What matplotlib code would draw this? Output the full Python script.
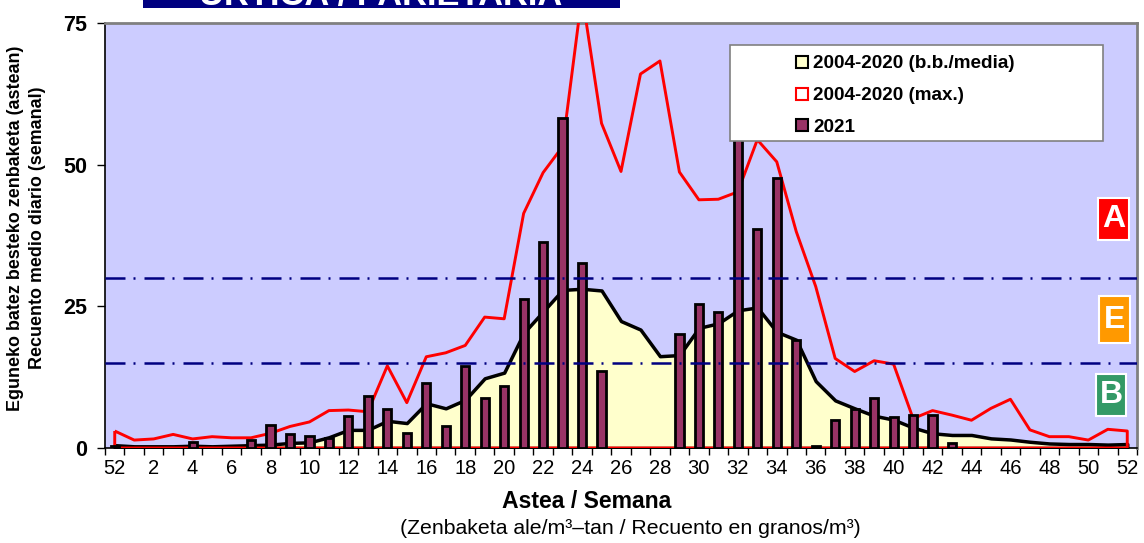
import numpy as np
import matplotlib
matplotlib.use("Agg")
import matplotlib.pyplot as plt
from matplotlib.patches import Patch, Rectangle

plt.rcParams['font.family'] = ['Liberation Sans', 'DejaVu Sans']

# ---- data ----
week_labels = [52] + list(range(1, 53))  # 53 categories
bars_2021 = [0.4, 0, 0, 0, 1.0, 0, 0, 1.4, 4.0, 2.5, 2.1, 1.7, 5.6, 9.2, 6.8, 2.7,
             11.5, 3.9, 14.5, 8.9, 10.9, 26.3, 36.3, 58.3, 32.6, 13.6, 0, 0, 0,
             20.1, 25.4, 24.0, 60.0, 38.7, 47.6, 19.0, 0.3, 4.9, 6.9, 8.8, 5.5,
             5.8, 5.9, 0.9, 0, 0, 0, 0, 0, 0, 0, 0, 0]
mean_0420 = [0.5, 0.3, 0.3, 0.3, 0.4, 0.3, 0.4, 0.5, 0.6, 0.9, 1.0, 1.9, 3.2, 3.2,
             4.8, 4.4, 7.9, 7.0, 8.5, 12.3, 13.3, 20.3, 24.1, 27.9, 28.1, 27.8,
             22.4, 20.9, 16.2, 16.4, 21.2, 22.0, 24.3, 24.8, 20.5, 19.1, 11.8,
             8.4, 7.0, 5.7, 5.0, 3.6, 2.6, 2.3, 2.3, 1.7, 1.5, 1.1, 0.8, 0.7,
             0.7, 0.6, 0.7]
max_0420 = [3.0, 1.4, 1.6, 2.4, 1.6, 2.0, 1.8, 1.8, 2.6, 3.8, 4.6, 6.6, 6.7, 6.4,
            14.5, 8.0, 16.1, 16.8, 18.1, 23.1, 22.8, 41.4, 48.6, 53.2, 80.0,
            57.3, 48.8, 66.0, 68.3, 48.7, 43.8, 43.9, 45.2, 54.4, 50.5, 38.2,
            28.5, 15.8, 13.5, 15.4, 14.8, 5.2, 6.6, 5.8, 4.9, 7.0, 8.6, 3.2,
            2.0, 2.0, 1.4, 3.3, 3.0]
thresholds = [15, 30]
levels = ["A", "E", "B"]
level_colors = ["#FF0000", "#FF9900", "#339966"]
series_names = ["2004-2020 (b.b./media)", "2004-2020 (max.)", "2021"]
title = "URTICA / PARIETARIA"

W, H = 1144, 543
fig = plt.figure(figsize=(W / 100, H / 100), dpi=100)
ax = fig.add_axes([105 / W, (H - 448) / H, (1137 - 105) / W, (448 - 23) / H])
ax.set_facecolor("#CCCCFF")

x = np.arange(len(week_labels))

ax.fill_between(x, 0, mean_0420, facecolor="#FFFFCC", edgecolor="black",
                linewidth=2.5, zorder=2)
ax.fill_between(x, 0, max_0420, facecolor="none", edgecolor="red",
                linewidth=2.1, zorder=3)
b = np.array(bars_2021)
mask = b > 0
ax.bar(x[mask], b[mask], width=0.42, color="#993366", edgecolor="black",
       linewidth=2.0, zorder=4)
for t in thresholds:
    ax.axhline(t, color="#000080", linewidth=1.8,
               linestyle=(0, (8, 3.2, 0.8, 3.6)), zorder=5)

ax.set_xlim(-0.5, len(week_labels) - 0.5)
ax.set_ylim(0, 75)
ax.set_yticks([0, 25, 50, 75])
ax.set_yticklabels(["0", "25", "50", "75"], fontsize=15.5, fontweight="bold")
ax.tick_params(axis="y", direction="out", length=6, width=1, pad=7)

ax.set_xticks(x[::2])
ax.set_xticklabels([str(week_labels[i]) for i in x[::2]], fontsize=14.5)
ax.set_xticks(np.arange(-0.5, len(week_labels)), minor=True)
ax.tick_params(axis="x", which="major", length=0, pad=8)
ax.tick_params(axis="x", which="minor", length=5, width=1, direction="out")

for s in ["top", "right"]:
    ax.spines[s].set_color("#808080")
    ax.spines[s].set_linewidth(2)
ax.spines["left"].set_linewidth(1.2)
ax.spines["bottom"].set_linewidth(1.2)

# legend box
def ax_xy(px, py):
    return (px - 105) / (1137 - 105), (448 - py) / (448 - 23)

lx0, ly0 = ax_xy(730, 141)
lx1, ly1 = ax_xy(1103, 45)
ax.add_patch(Rectangle((lx0, ly0), lx1 - lx0, ly1 - ly0, transform=ax.transAxes,
                       facecolor="white", edgecolor="#808080", linewidth=1.2,
                       zorder=6))
handles = [Patch(facecolor="#FFFFCC", edgecolor="black", linewidth=1.5),
           Patch(facecolor="white", edgecolor="red", linewidth=1.5),
           Patch(facecolor="#993366", edgecolor="black", linewidth=1.5)]
lax, lay = ax_xy(787, 46)
leg = ax.legend(handles, series_names, loc="upper left", bbox_to_anchor=(lax, lay),
                frameon=False, borderpad=0, handlelength=0.6, handleheight=0.6,
                handletextpad=0.3, labelspacing=0.78,
                prop={"weight": "bold", "size": 13.6})
leg.set_zorder(7)

# level boxes
boxes = [(1098, 198, 31, 42), (1099, 296, 31, 47), (1096, 374, 30, 42)]
for (bx, by, bw, bh), lab, col in zip(boxes, levels, level_colors):
    fig.patches.append(Rectangle((bx / W, 1 - (by + bh) / H), bw / W, bh / H,
                                 transform=fig.transFigure, facecolor=col,
                                 edgecolor="white", linewidth=1.5, zorder=8))
    fig.text((bx + bw / 2) / W, 1 - (by + bh / 2) / H, lab, color="white",
             fontsize=23, fontweight="bold", ha="center", va="center", zorder=9)

# title (cut off at top, as in the reference)
fig.patches.append(Rectangle((143 / W, 1 - 7.5 / H), (620 - 143) / W, 20 / H,
                             transform=fig.transFigure, facecolor="#000080",
                             edgecolor="none", zorder=8))
fig.text(381 / W, 1 - 5 / H, title, color="white", fontsize=24.8,
         fontweight="bold", ha="center", va="baseline", zorder=9)

# axis labels
fig.text(26.5 / W, 1 - 228 / H,
         "Eguneko batez besteko zenbaketa (astean)\nRecuento medio diario (semanal)",
         rotation=90, fontsize=12.9, fontweight="bold", ha="center", va="center",
         multialignment="center", linespacing=1.35)
fig.text(587 / W, 1 - 501 / H, "Astea / Semana", fontsize=16.6, fontweight="bold",
         ha="center", va="center")
fig.text(630 / W, 1 - 529 / H,
         "(Zenbaketa ale/m³–tan / Recuento en granos/m³)", fontsize=15.3,
         ha="center", va="center")

fig.savefig("out.png", dpi=100)
